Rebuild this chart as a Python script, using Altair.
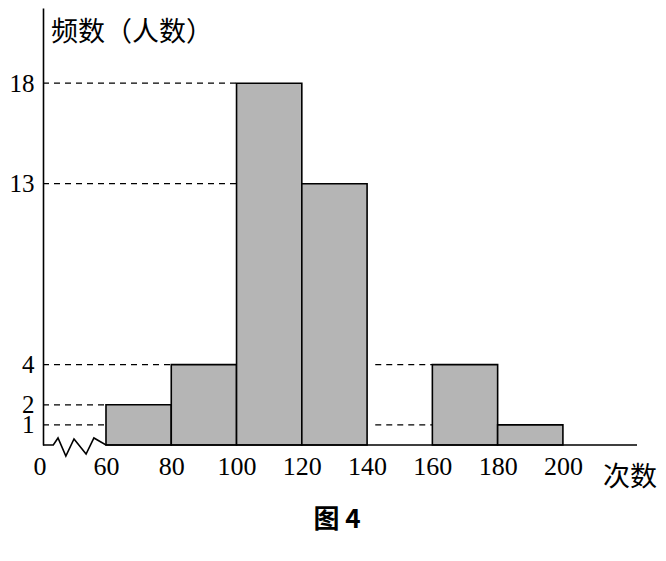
import altair as alt
import pandas as pd

# histogram data
bin_start = [60, 80, 100, 120, 140, 160, 180]
bin_end = [80, 100, 120, 140, 160, 180, 200]
counts = [2, 4, 18, 13, 0, 4, 1]

x_ticks = [60, 80, 100, 120, 140, 160, 180, 200]
y_ticks = [1, 2, 4, 13, 18]

# dashed guide lines: level, from, to
dash_y = [18, 13, 4, 2, 1, 4, 1]
dash_x0 = [40.7, 40.7, 40.7, 40.7, 40.7, 142.5, 142.5]
dash_x1 = [100, 100, 80, 60, 60, 160, 160]

# broken-axis zigzag (data units)
zig_x = [40.7, 43.85, 45.3, 47.7, 50.2, 53.9, 56.3, 60, 222.7]
zig_y = [0, 0, 0.35, -0.55, 0.3, -0.45, 0.35, 0, 0]

XMIN, XMAX = 40.7, 222.7
YMAX = 21.74

xs = alt.Scale(domain=[XMIN, XMAX], nice=False, zero=False)
ys = alt.Scale(domain=[0, YMAX], nice=False)

SERIF = "Liberation Serif"
CJK = "Noto Sans CJK SC"

bars_df = pd.DataFrame({"a": bin_start, "b": bin_end, "c": counts})
bars_df = bars_df[bars_df.c > 0]

bars = alt.Chart(bars_df).mark_rect(
    fill="#b5b5b5", stroke="black", strokeWidth=1.6
).encode(
    x=alt.X("a:Q", scale=xs,
            axis=alt.Axis(values=x_ticks, domain=False, ticks=False, grid=False,
                          labelFont=SERIF, labelFontSize=26, labelColor="black",
                          labelPadding=8, title=None, labelFlush=False,
                          labelOverlap=False)),
    x2="b:Q",
    y=alt.Y("c:Q", scale=ys,
            axis=alt.Axis(values=y_ticks, domain=True, domainColor="black",
                          domainWidth=1.6, ticks=False, grid=False,
                          labelFont=SERIF, labelFontSize=25, labelColor="black",
                          labelPadding=9, title=None, labelFlush=False,
                          labelOverlap=False)),
    y2=alt.datum(0),
)

dash_df = pd.DataFrame({"y": dash_y, "x0": dash_x0, "x1": dash_x1})
dashes = alt.Chart(dash_df).mark_rule(
    color="black", strokeWidth=1.3, strokeDash=[6, 5]
).encode(x=alt.X("x0:Q", scale=xs), x2="x1:Q", y=alt.Y("y:Q", scale=ys))

zig_df = pd.DataFrame({"x": zig_x, "y": zig_y, "o": list(range(len(zig_x)))})
baseline = alt.Chart(zig_df).mark_line(color="black", strokeWidth=1.6).encode(
    x=alt.X("x:Q", scale=xs), y=alt.Y("y:Q", scale=ys), order="o:Q"
)

zero_lbl = alt.Chart(pd.DataFrame({"x": [XMIN], "t": ["0"]})).mark_text(
    font=SERIF, fontSize=26, color="black", baseline="middle", dx=-3
).encode(x=alt.X("x:Q", scale=xs), y=alt.value(459), text="t:N")

ytitle = alt.Chart(pd.DataFrame({"t": ["频数（人数）"]})).mark_text(
    font=CJK, fontSize=27, color="black", align="left", baseline="middle"
).encode(x=alt.value(8), y=alt.value(25), text="t:N")

xtitle = alt.Chart(pd.DataFrame({"t": ["次数"]})).mark_text(
    font=CJK, fontSize=27, color="black", align="left", baseline="middle"
).encode(x=alt.value(560), y=alt.value(470), text="t:N")

caption = alt.Chart(pd.DataFrame({"t": ["图 4"]})).mark_text(
    font=CJK, fontSize=26, fontWeight="bold", color="black", align="center",
    baseline="middle"
).encode(x=alt.value(294), y=alt.value(512), text="t:N")

chart = alt.layer(bars, dashes, baseline, zero_lbl, ytitle, xtitle, caption).properties(
    width=594, height=437,
    padding={"left": 35, "top": 0, "right": 21, "bottom": 100},
    autosize=alt.AutoSizeParams(type="none"),
    background="white",
).configure_view(stroke=None)

chart.save("out.html", embed_options={"renderer": "svg", "actions": False})
